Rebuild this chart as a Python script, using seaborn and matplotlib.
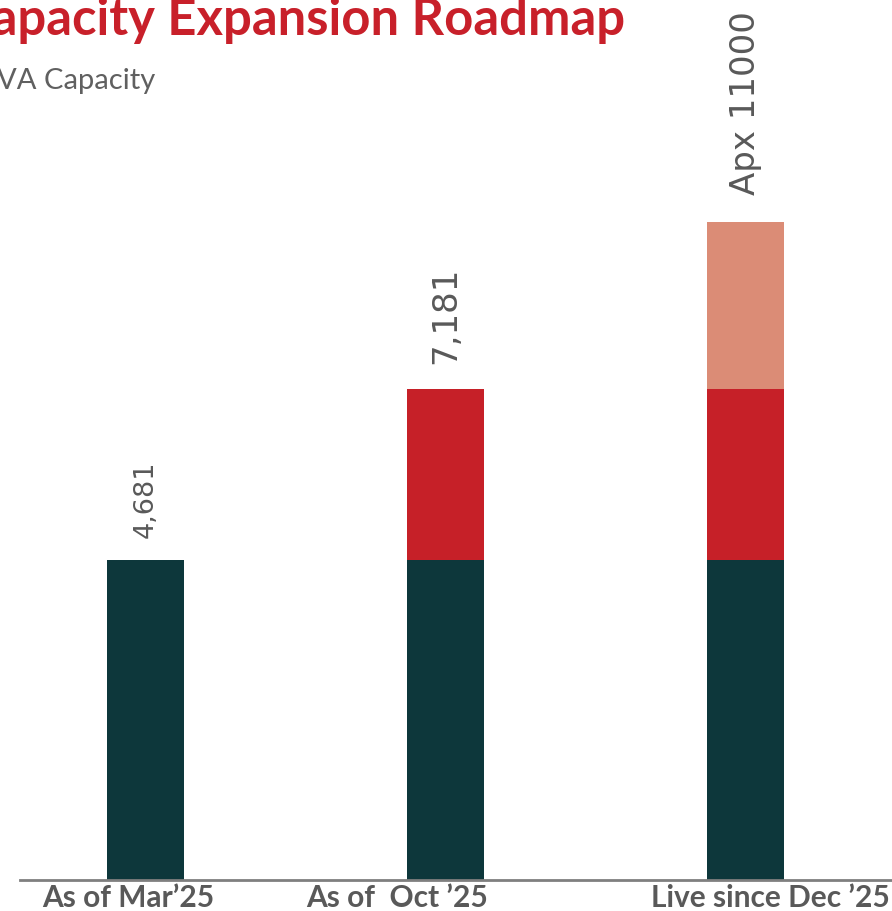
import matplotlib
matplotlib.use("Agg")
import matplotlib.pyplot as plt
import matplotlib.transforms as mtransforms
import numpy as np
import seaborn as sns

# data
categories = ["As of Mar’25", "As of  Oct ’25", "Live since Dec ’25"]
existing = [4681, 4681, 4681]
phase2 = [0, 2500, 2500]
phase3 = [0, 0, 2450]
value_labels = ["4,681", "7,181", "Apx 11000"]

dark = "#0D373B"
red = "#C62028"
salmon = "#DB8C76"
grey = "#595959"

sns.set_theme(style="white")
plt.rcParams["font.family"] = ["Lato", "DejaVu Sans"]

fig = plt.figure(figsize=(8.92, 9.11), dpi=100)
ax = fig.add_axes([20 / 892, 31 / 911, 872 / 892, 880 / 911])

lvl1 = np.array(existing)
lvl2 = lvl1 + np.array(phase2)
lvl3 = lvl2 + np.array(phase3)

# stacked look: draw cumulative totals back to front
bw = 0.257
for lvl, col in [(lvl3, salmon), (lvl2, red), (lvl1, dark)]:
    sns.barplot(x=categories, y=lvl, color=col, width=bw, saturation=1,
                linewidth=0, ax=ax)

label_sizes = [19.5, 24.5, 24.5]
label_gaps = [16, 18, 19.5]
for i, (tot, lab) in enumerate(zip(lvl3, value_labels)):
    ax.annotate(lab, (i, tot), xytext=(0, label_gaps[i]), textcoords="offset points",
                rotation=90, ha="center", va="bottom", color=grey,
                fontsize=label_sizes[i], family="DejaVu Sans")

ax.set_xlim(-0.42, 2.49)
ax.set_ylim(0, 12873)
ax.set_yticks([])
ax.set_ylabel("")
for s in ["top", "left", "right"]:
    ax.spines[s].set_visible(False)
ax.spines["bottom"].set_color("#7F7F7F")
ax.spines["bottom"].set_linewidth(2)
ax.tick_params(axis="x", length=0, pad=3)

# tick labels sit a bit off the bar centres in the original slide
shifts = [-18, -48, 25]
for t, dx in zip(ax.get_xticklabels(), shifts):
    t.set_fontweight("bold")
    t.set_color(grey)
    t.set_fontsize(21.5)
    t.set_transform(t.get_transform() + mtransforms.ScaledTranslation(dx / 100, 0, fig.dpi_scale_trans))

fig.text(625 / 892, 1 - 20 / 911, "Capacity Expansion Roadmap", ha="right", va="center",
         color="#C8202A", fontsize=36.5, fontweight="bold")
fig.text(155 / 892, 1 - 81 / 911, "MVA Capacity", ha="right", va="center",
         color="#606060", fontsize=21)

fig.savefig("out.png", dpi=100)
